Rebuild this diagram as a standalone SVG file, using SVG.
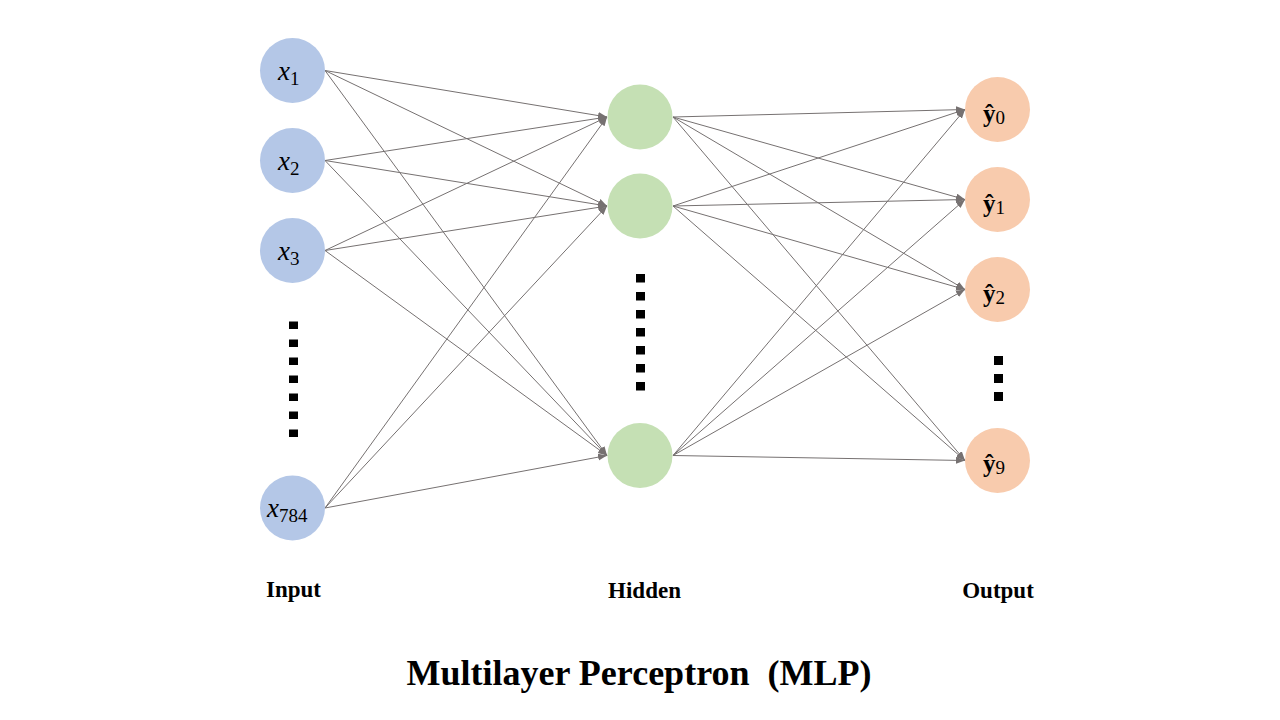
<svg xmlns="http://www.w3.org/2000/svg" width="1280" height="720" viewBox="0 0 1280 720">
<defs>
<marker id="arr" markerUnits="userSpaceOnUse" markerWidth="10" markerHeight="8" refX="9" refY="3.5" orient="auto">
<path d="M0,0 L9,3.5 L0,7 Z" fill="#767171"/>
</marker>
<style>
.in{fill:#B4C7E7}
.hid{fill:#C5E0B4}
.out{fill:#F8CBAD}
.edge{stroke:#767171;stroke-width:1;fill:none;marker-end:url(#arr)}
.dot{fill:#000}
.xl{font-family:"Liberation Serif","Times New Roman",serif;font-size:27px;font-style:italic;fill:#000}
.sub{font-family:"Liberation Serif","Times New Roman",serif;font-size:19px;font-style:normal;fill:#000}
.yl{font-family:"Liberation Serif","Times New Roman",serif;font-size:25px;font-weight:bold;fill:#000}
.ysub{font-family:"Liberation Serif","Times New Roman",serif;font-size:19px;font-weight:normal;fill:#000}
.lab{font-family:"Liberation Serif","Times New Roman",serif;font-size:23px;font-weight:bold;fill:#000;text-anchor:middle}
.title{font-family:"Liberation Serif","Times New Roman",serif;font-size:36px;font-weight:bold;fill:#000;text-anchor:middle}
</style>
</defs>
<rect width="1280" height="720" fill="#fff"/>

<g id="connectors">
<line class="edge" x1="325" y1="70.5" x2="607" y2="117"/>
<line class="edge" x1="325" y1="70.5" x2="607" y2="206"/>
<line class="edge" x1="325" y1="70.5" x2="607" y2="455.5"/>
<line class="edge" x1="325" y1="160.5" x2="607" y2="117"/>
<line class="edge" x1="325" y1="160.5" x2="607" y2="206"/>
<line class="edge" x1="325" y1="160.5" x2="607" y2="455.5"/>
<line class="edge" x1="325" y1="250.5" x2="607" y2="117"/>
<line class="edge" x1="325" y1="250.5" x2="607" y2="206"/>
<line class="edge" x1="325" y1="250.5" x2="607" y2="455.5"/>
<line class="edge" x1="325" y1="508" x2="607" y2="117"/>
<line class="edge" x1="325" y1="508" x2="607" y2="206"/>
<line class="edge" x1="325" y1="508" x2="607" y2="455.5"/>
<line class="edge" x1="673" y1="117" x2="965" y2="109.5"/>
<line class="edge" x1="673" y1="117" x2="965" y2="199.5"/>
<line class="edge" x1="673" y1="117" x2="965" y2="289.5"/>
<line class="edge" x1="673" y1="117" x2="965" y2="460.5"/>
<line class="edge" x1="673" y1="206" x2="965" y2="109.5"/>
<line class="edge" x1="673" y1="206" x2="965" y2="199.5"/>
<line class="edge" x1="673" y1="206" x2="965" y2="289.5"/>
<line class="edge" x1="673" y1="206" x2="965" y2="460.5"/>
<line class="edge" x1="673" y1="455.5" x2="965" y2="109.5"/>
<line class="edge" x1="673" y1="455.5" x2="965" y2="199.5"/>
<line class="edge" x1="673" y1="455.5" x2="965" y2="289.5"/>
<line class="edge" x1="673" y1="455.5" x2="965" y2="460.5"/>
</g>

<g id="x1"><circle class="in" cx="292.5" cy="70.5" r="32.5"/><text class="xl" x="278" y="80">x<tspan class="sub" dy="5">1</tspan></text></g>
<g id="x2"><circle class="in" cx="292.5" cy="160.5" r="32.5"/><text class="xl" x="278" y="170">x<tspan class="sub" dy="5">2</tspan></text></g>
<g id="x3"><circle class="in" cx="292.5" cy="250.5" r="32.5"/><text class="xl" x="278" y="260">x<tspan class="sub" dy="5">3</tspan></text></g>
<g id="x784"><circle class="in" cx="292.5" cy="508" r="32.5"/><text class="xl" x="267" y="517">x<tspan class="sub" dy="5">784</tspan></text></g>

<g id="input-dots">
<rect class="dot" x="289" y="321.5" width="9" height="7.5"/>
<rect class="dot" x="289" y="339.5" width="9" height="7.5"/>
<rect class="dot" x="289" y="357.5" width="9" height="7.5"/>
<rect class="dot" x="289" y="375.5" width="9" height="7.5"/>
<rect class="dot" x="289" y="393.5" width="9" height="7.5"/>
<rect class="dot" x="289" y="411.5" width="9" height="7.5"/>
<rect class="dot" x="289" y="429.5" width="9" height="7.5"/>
</g>

<g id="h1"><circle class="hid" cx="640" cy="117" r="32.5"/></g>
<g id="h2"><circle class="hid" cx="640" cy="206" r="32.5"/></g>
<g id="h3"><circle class="hid" cx="640" cy="455.5" r="32.5"/></g>

<g id="hidden-dots">
<rect class="dot" x="636" y="274" width="9" height="8.5"/>
<rect class="dot" x="636" y="292" width="9" height="8.5"/>
<rect class="dot" x="636" y="310" width="9" height="8.5"/>
<rect class="dot" x="636" y="328" width="9" height="8.5"/>
<rect class="dot" x="636" y="346" width="9" height="8.5"/>
<rect class="dot" x="636" y="364" width="9" height="8.5"/>
<rect class="dot" x="636" y="382" width="9" height="8.5"/>
</g>

<g id="y0"><circle class="out" cx="997.5" cy="109.5" r="32.5"/><text class="yl" x="983" y="122">ŷ<tspan class="ysub" dy="2">0</tspan></text></g>
<g id="y1"><circle class="out" cx="997.5" cy="199.5" r="32.5"/><text class="yl" x="983" y="212">ŷ<tspan class="ysub" dy="2">1</tspan></text></g>
<g id="y2"><circle class="out" cx="997.5" cy="289.5" r="32.5"/><text class="yl" x="983" y="302">ŷ<tspan class="ysub" dy="2">2</tspan></text></g>
<g id="y9"><circle class="out" cx="997.5" cy="460.5" r="32.5"/><text class="yl" x="983" y="472">ŷ<tspan class="ysub" dy="2">9</tspan></text></g>

<g id="output-dots">
<rect class="dot" x="994" y="356" width="9" height="9"/>
<rect class="dot" x="994" y="374" width="9" height="9"/>
<rect class="dot" x="994" y="392" width="9" height="9"/>
</g>

<text class="lab" x="293.5" y="597">Input</text>
<text class="lab" x="644.5" y="598">Hidden</text>
<text class="lab" x="998" y="598">Output</text>
<text class="title" x="639" y="685" xml:space="preserve">Multilayer Perceptron  (MLP)</text>
</svg>
